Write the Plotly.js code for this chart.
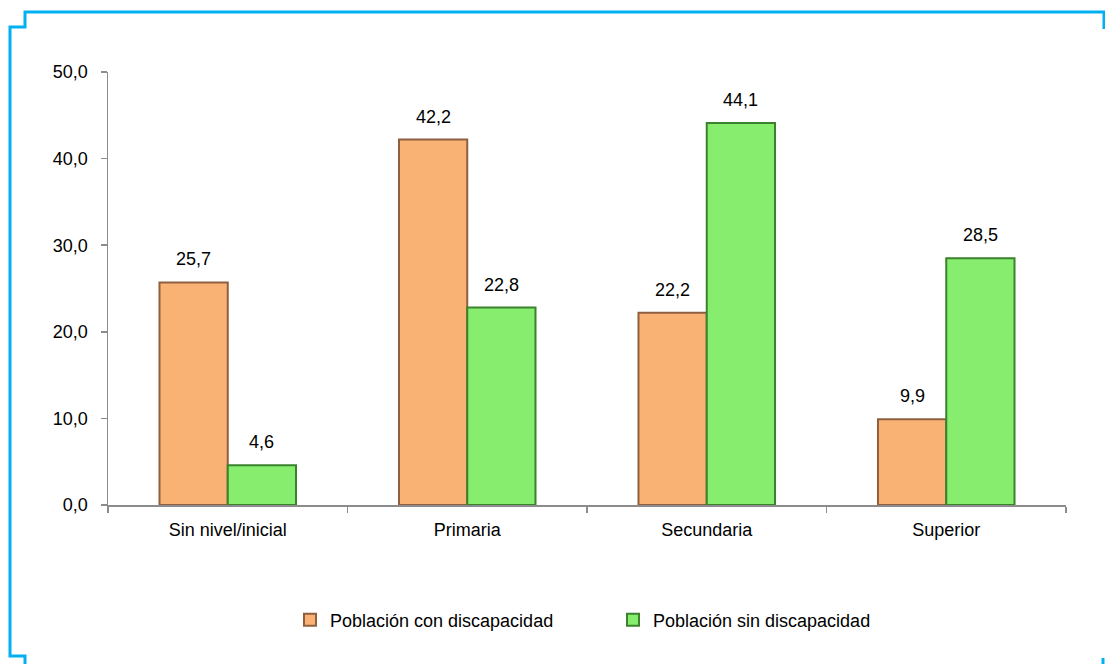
<!DOCTYPE html>
<html>
<head>
<meta charset="utf-8">
<script src="https://cdn.plot.ly/plotly-3.0.1.min.js"></script>
<style>html,body{margin:0;padding:0;background:#fff;}#chart{width:1105px;height:664px;}</style>
</head>
<body>
<div id="chart"></div>
<script>
const categories = ["Sin nivel/inicial", "Primaria", "Secundaria", "Superior"];
const conDiscapacidad = [25.7, 42.2, 22.2, 9.9];
const sinDiscapacidad = [4.6, 22.8, 44.1, 28.5];
const seriesNames = ["Población con discapacidad", "Población sin discapacidad"];
const yTicks = [0, 10, 20, 30, 40, 50];

const FONT = "'Liberation Sans', Arial, sans-serif";
const FS = 18;
const W = 1105, H = 664;
const M = {l: 108, r: 39, t: 72, b: 159};
const pw = W - M.l - M.r, ph = H - M.t - M.b;
const px = x => (x - M.l) / pw;
const py = y => (H - M.b - y) / ph;

function fmt(v){ return v.toFixed(1).replace('.', ','); }

const traces = [
  {type: 'bar', name: seriesNames[0], x: categories, y: conDiscapacidad,
   marker: {color: '#FAB274', line: {color: '#8E6040', width: 2}}, hoverinfo: 'y'},
  {type: 'bar', name: seriesNames[1], x: categories, y: sinDiscapacidad,
   marker: {color: '#86ED6F', line: {color: '#3A822C', width: 2}}, hoverinfo: 'y'}
];

const annotations = [];
[conDiscapacidad, sinDiscapacidad].forEach((arr, si) => {
  arr.forEach((v, i) => {
    annotations.push({
      x: categories[i], y: v, xref: 'x', yref: 'y',
      xshift: si === 0 ? -34 : 34, yshift: 11,
      text: fmt(v), showarrow: false, yanchor: 'bottom',
      font: {family: FONT, size: FS, color: '#000'}
    });
  });
});

const framePath = `M ${px(25)} ${py(664)} L ${px(25)} ${py(656)} L ${px(10)} ${py(656)} L ${px(10)} ${py(27)} L ${px(25)} ${py(27)} L ${px(25)} ${py(12)} L ${px(1104)} ${py(12)} L ${px(1104)} ${py(29)}`;
const frameBR = `M ${px(1103)} ${py(658)} L ${px(1103)} ${py(664)}`;

const layout = {
  width: W, height: H,
  margin: M,
  paper_bgcolor: '#fff', plot_bgcolor: '#fff',
  separators: ',.',
  font: {family: FONT, size: FS, color: '#000'},
  barmode: 'group', bargap: 0.43, bargroupgap: 0,
  showlegend: true,
  legend: {orientation: 'h', x: px(290), xanchor: 'left', y: py(620), yanchor: 'middle',
    font: {family: FONT, size: FS, color: '#000'}, entrywidth: 278, entrywidthmode: 'pixels',
    itemwidth: 30, traceorder: 'normal'},
  xaxis: {type: 'category', showline: true, linecolor: '#8C8C8C', linewidth: 1.5,
    ticks: 'outside', tickson: 'boundaries', ticklen: 6, tickcolor: '#8C8C8C', tickwidth: 1.5,
    showgrid: false, zeroline: false, ticklabelstandoff: 8,
    tickfont: {family: FONT, size: FS, color: '#000'}},
  yaxis: {range: [0, 50], tickvals: yTicks, tickformat: '.1f', showline: true,
    linecolor: '#8C8C8C', linewidth: 1.5, ticks: 'outside', ticklen: 6, tickcolor: '#8C8C8C',
    tickwidth: 1.5, showgrid: false, zeroline: false, ticklabelstandoff: 9,
    tickfont: {family: FONT, size: FS, color: '#000'}},
  annotations: annotations,
  shapes: [
    {type: 'path', xref: 'paper', yref: 'paper', path: framePath, line: {color: '#00B0F0', width: 3}},
    {type: 'path', xref: 'paper', yref: 'paper', path: frameBR, line: {color: '#00B0F0', width: 3}}
  ]
};

Plotly.newPlot('chart', traces, layout, {displayModeBar: false, staticPlot: true});
</script>
</body>
</html>
